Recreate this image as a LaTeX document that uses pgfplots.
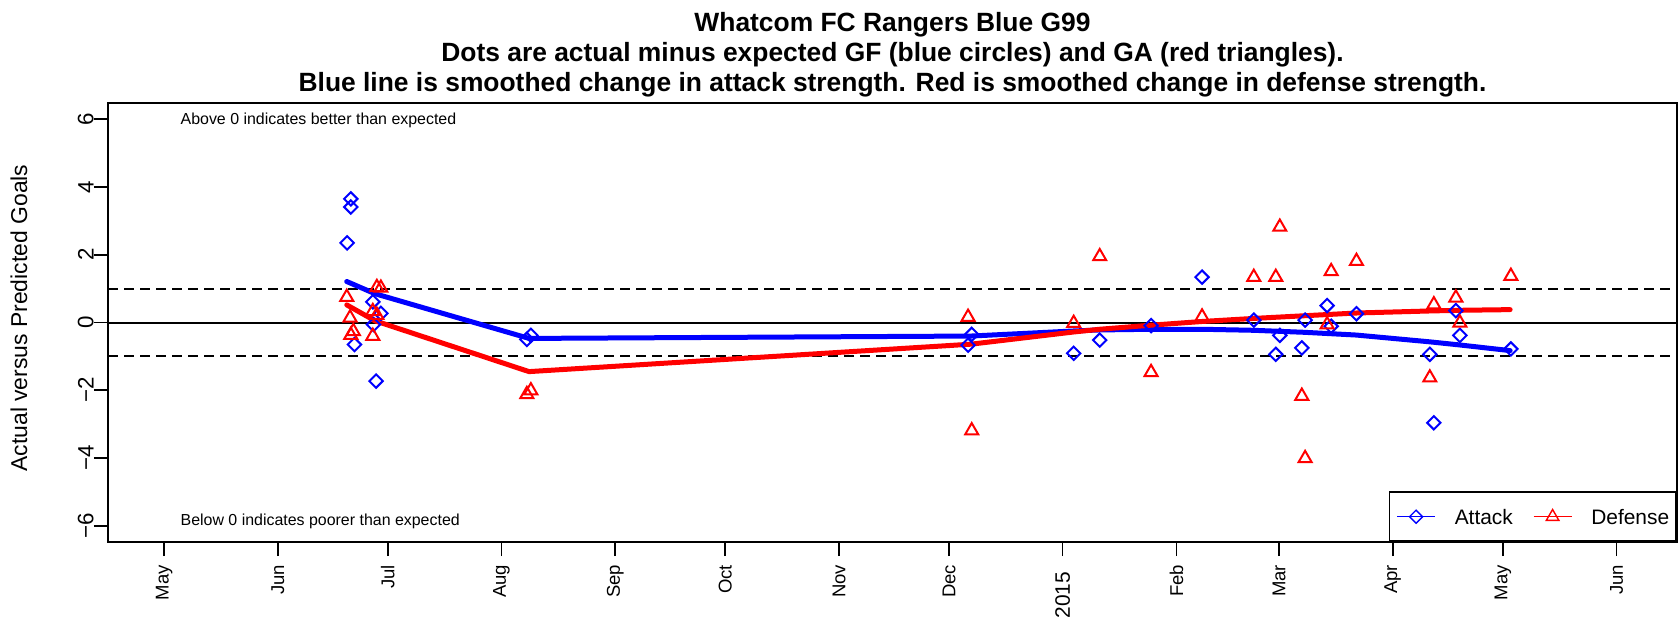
\documentclass[border=0pt]{standalone}
\usepackage{fontspec}
\setmainfont{Liberation Sans}
\usepackage{pgfplots}
\usepackage{pgfplotstable}
\pgfplotsset{compat=1.18}

\pgfplotstableread{
d v
50.9 3.65
50.9 3.41
49.9 2.35
51.9 -0.65
56.9 0.61
59.1 0.27
57.1 -0.06
57.8 -1.73
98.9 -0.50
100.0 -0.38
220.2 -0.35
219.2 -0.67
248.0 -0.91
255.1 -0.52
269.1 -0.09
283.0 1.34
297.1 0.07
304.2 -0.38
303.1 -0.94
311.1 0.07
310.2 -0.75
317.1 0.50
318.2 -0.11
325.1 0.26
345.1 -0.94
346.2 -2.96
352.2 0.35
353.3 -0.38
367.2 -0.78
}\attackpts

\pgfplotstableread{
d v
49.8 0.75
50.7 0.14
51.6 -0.26
50.9 -0.37
58.0 1.04
59.1 1.02
56.9 0.33
58.0 0.22
56.9 -0.40
98.9 -2.12
100.0 -2.01
219.2 0.16
220.2 -3.19
255.1 1.95
248.0 -0.02
283.0 0.17
269.1 -1.47
297.1 1.34
303.1 1.34
304.2 2.82
310.2 -2.17
311.1 -4.01
318.2 1.51
325.1 1.81
317.1 -0.06
346.2 0.53
345.1 -1.63
352.2 0.73
353.3 -0.01
367.2 1.37
}\defensepts

\pgfplotstableread{
d v
49.8 1.21
57.5 0.85
99.5 -0.47
220.0 -0.40
248.0 -0.25
255.0 -0.22
269.0 -0.20
283.0 -0.20
297.0 -0.23
304.0 -0.26
311.0 -0.29
318.0 -0.33
325.0 -0.37
345.0 -0.57
353.0 -0.66
367.0 -0.83
}\attackline

\pgfplotstableread{
d v
49.8 0.52
57.5 0.05
99.5 -1.45
220.0 -0.64
248.0 -0.28
255.0 -0.20
269.0 -0.08
283.0 0.03
297.0 0.12
304.0 0.16
311.0 0.20
318.0 0.24
325.0 0.28
345.0 0.34
353.0 0.36
367.0 0.38
}\defenseline

\begin{document}
\begin{tikzpicture}
\path[use as bounding box] (0bp,0bp) rectangle (840bp,308.5bp);
\begin{axis}[
  at={(54bp,37.5bp)}, anchor=south west,
  scale only axis, width=784.5bp, height=219.5bp,
  xmin=-15.3, xmax=412.5, ymin=-6.48, ymax=6.48,
  clip=false,
  axis line style={line width=0.8bp},
  every tick/.style={line width=0.8bp, black},
  tick align=outside, major tick length=7bp,
  xtick pos=left, ytick pos=left,
  xtick={0,31,61,92,123,153,184,214,245,276,304,335,365,396},
  xticklabels={May,Jun,Jul,Aug,Sep,Oct,Nov,Dec,{\fontsize{10.5}{12}\selectfont 2015\hspace*{3.5bp}},Feb,Mar,Apr,May,Jun},
  xticklabel style={rotate=90, anchor=east, font=\fontsize{9.3}{11}\selectfont, inner sep=0pt},
  xticklabel shift=4.3bp,
  ytick={-6,-4,-2,0,2,4,6},
  yticklabels={−6,−4,−2,0,2,4,6},
  yticklabel style={rotate=90, anchor=south, font=\fontsize{11.2}{13}\selectfont, inner sep=0pt},
  ylabel={Actual versus Predicted Goals},
  ylabel style={at={(axis description cs:-0.0567,0.51)}, anchor=center, font=\fontsize{11.5}{13}\selectfont, inner sep=0pt},
  legend columns=2,
  legend cell align=left,
  legend style={at={(1,0)}, anchor=south east, draw=black, line width=0.8bp, fill=white,
    inner xsep=3.5bp, inner ysep=8.5bp, font=\fontsize{10.5}{12}\selectfont,
    nodes={inner sep=0pt, text height=7.5bp, text depth=0pt},
    column sep=0bp,
    /tikz/every odd column/.append style={column sep=9.5bp},
    /tikz/every even column/.append style={column sep=10bp}},
  legend image code/.code={\draw[mark repeat=2,mark phase=2,#1] plot coordinates {(0bp,0bp) (9.5bp,0bp) (19bp,0bp)};},
]
\addplot[black, line width=1bp, forget plot] coordinates {(-15.3,0) (412.5,0)};
\addplot[black, line width=1bp, dash pattern=on 4.8bp off 3.2bp, forget plot] coordinates {(-15.3,1) (412.5,1)};
\addplot[black, line width=1bp, dash pattern=on 4.8bp off 3.2bp, forget plot] coordinates {(-15.3,-1) (412.5,-1)};

\addplot[only marks, blue, mark=square, mark size=2.37bp, mark options={rotate=45, line width=1bp}, forget plot] table[x=d,y=v] {\attackpts};
\addplot[only marks, red, mark=triangle, mark size=3.75bp, mark options={line width=1bp}, forget plot] table[x=d,y=v] {\defensepts};

\addplot[blue, line width=2.5bp, line cap=round, line join=round, forget plot] table[x=d,y=v] {\attackline};
\addplot[red, line width=2.5bp, line cap=round, line join=round, forget plot] table[x=d,y=v] {\defenseline};

\addlegendimage{blue, line width=0.7bp, mark=square, mark size=2.3bp, mark options={rotate=45, solid}}
\addlegendentry{Attack}
\addlegendimage{red, line width=0.7bp, mark=triangle, mark size=3.6bp, mark options={solid}}
\addlegendentry{Defense}

\node[anchor=west, inner sep=0pt, font=\fontsize{8}{9.6}\selectfont] at (axis cs:4.4,5.97) {Above 0 indicates better than expected};
\node[anchor=west, inner sep=0pt, font=\fontsize{8}{9.6}\selectfont] at (axis cs:4.4,-5.87) {Below 0 indicates poorer than expected};

\node[anchor=base, inner sep=0pt, font=\bfseries\fontsize{13.25}{16}\selectfont] at (axis description cs:0.5,1.1624) {Whatcom FC Rangers Blue G99};
\node[anchor=base, inner sep=0pt, font=\bfseries\fontsize{13.25}{16}\selectfont] at (axis description cs:0.5,1.0941) {Dots are actual minus expected GF (blue circles) and GA (red triangles).};
\node[anchor=base, inner sep=0pt, font=\bfseries\fontsize{13.25}{16}\selectfont] at (axis description cs:0.5,1.0257) {Blue line is smoothed change in attack strength. Red is smoothed change in defense strength.};
\end{axis}
\end{tikzpicture}
\end{document}
